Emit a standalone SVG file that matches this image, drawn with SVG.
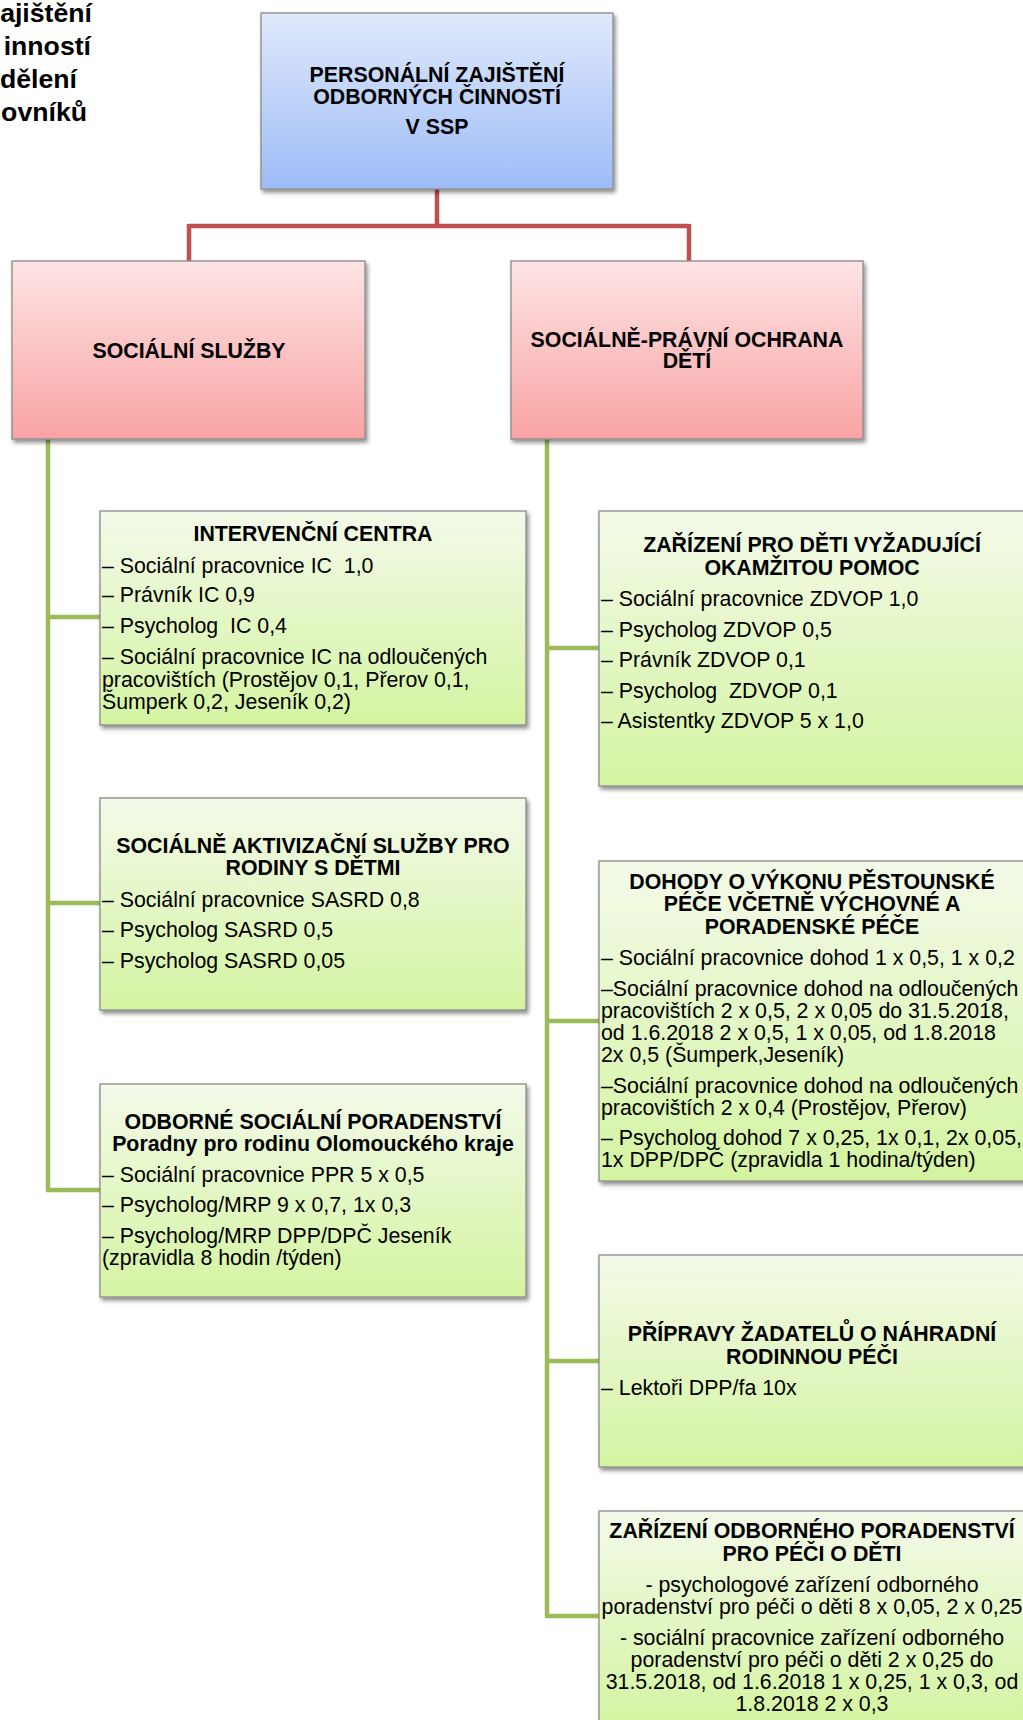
<svg xmlns="http://www.w3.org/2000/svg" width="1023" height="1720" viewBox="0 0 1023 1720">
<defs>
<linearGradient id="gBlue" x1="0" y1="0" x2="0" y2="1"><stop offset="0" stop-color="#e0e9fb"/><stop offset="1" stop-color="#9dbcf7"/></linearGradient>
<linearGradient id="gRed" x1="0" y1="0" x2="0" y2="1"><stop offset="0" stop-color="#fde4e4"/><stop offset="1" stop-color="#f9a3a3"/></linearGradient>
<linearGradient id="gGreen" x1="0" y1="0" x2="0" y2="1"><stop offset="0" stop-color="#f3fae9"/><stop offset="1" stop-color="#d4f4a1"/></linearGradient>
<filter id="sh" x="-5%" y="-5%" width="115%" height="120%"><feDropShadow dx="2" dy="3" stdDeviation="2" flood-color="#000" flood-opacity="0.45"/></filter>
</defs>
<style>
text{font-family:"Liberation Sans",Arial,sans-serif;font-size:21.33px;fill:#000;white-space:pre}
.b{font-weight:bold}
.c{text-anchor:middle}
.box{stroke:#8a8a8a;stroke-width:1.3;filter:url(#sh)}
.red{fill:none;stroke:#c0504d;stroke-width:4.5}
.grn{fill:none;stroke:#9bbb59;stroke-width:4.5}
.big{font-size:26.67px;font-weight:bold;text-anchor:end}
</style>
<rect width="1023" height="1720" fill="#fff"/>
<g id="title-fragment">
<text class="big" x="92" y="22">ajištění</text>
<text class="big" x="91" y="55">inností</text>
<text class="big" x="77" y="88">dělení</text>
<text class="big" x="87" y="121">ovníků</text>
</g>
<g id="connectors">
<path class="red" d="M437 189V226M189 226H689M189 224V261M689 224V261"/>
<path class="grn" d="M48 439V1190M46 617H100M46 903H100M46 1190H100"/>
<path class="grn" d="M547 439V1616M545 648H599M545 1021H599M545 1361H599M545 1616H599"/>
</g>
<g id="root">
<rect class="box" x="261" y="13" width="352" height="176" fill="url(#gBlue)"/>
<text class="b c" x="437" y="82">PERSONÁLNÍ ZAJIŠTĚNÍ</text>
<text class="b c" x="437" y="104">ODBORNÝCH ČINNOSTÍ</text>
<text class="b c" x="437" y="134">V SSP</text>
</g>
<g id="socialni-sluzby">
<rect class="box" x="12" y="261" width="353" height="178" fill="url(#gRed)"/>
<text class="b c" x="189" y="358">SOCIÁLNÍ SLUŽBY</text>
</g>
<g id="spod">
<rect class="box" x="511" y="261" width="352" height="178" fill="url(#gRed)"/>
<text class="b c" x="687" y="347">SOCIÁLNĚ-PRÁVNÍ OCHRANA</text>
<text class="b c" x="687" y="368">DĚTÍ</text>
</g>
<g id="intervencni-centra">
<rect class="box" x="100" y="511" width="426" height="214" fill="url(#gGreen)"/>
<text class="b c" x="313" y="541">INTERVENČNÍ CENTRA</text>
<text x="102" y="573">– Sociální pracovnice IC  1,0</text>
<text x="102" y="602">– Právník IC 0,9</text>
<text x="102" y="633">– Psycholog  IC 0,4</text>
<text x="102" y="664">– Sociální pracovnice IC na odloučených</text>
<text x="102" y="687">pracovištích (Prostějov 0,1, Přerov 0,1,</text>
<text x="102" y="709">Šumperk 0,2, Jeseník 0,2)</text>
</g>
<g id="sasrd">
<rect class="box" x="100" y="798" width="426" height="212" fill="url(#gGreen)"/>
<text class="b c" x="313" y="853">SOCIÁLNĚ AKTIVIZAČNÍ SLUŽBY PRO</text>
<text class="b c" x="313" y="875">RODINY S DĚTMI</text>
<text x="102" y="907">– Sociální pracovnice SASRD 0,8</text>
<text x="102" y="937">– Psycholog SASRD 0,5</text>
<text x="102" y="968">– Psycholog SASRD 0,05</text>
</g>
<g id="poradenstvi">
<rect class="box" x="100" y="1084" width="426" height="213" fill="url(#gGreen)"/>
<text class="b c" x="313" y="1129">ODBORNÉ SOCIÁLNÍ PORADENSTVÍ</text>
<text class="b c" x="313" y="1151">Poradny pro rodinu Olomouckého kraje</text>
<text x="102" y="1182">– Sociální pracovnice PPR 5 x 0,5</text>
<text x="102" y="1212">– Psycholog/MRP 9 x 0,7, 1x 0,3</text>
<text x="102" y="1243">– Psycholog/MRP DPP/DPČ Jeseník</text>
<text x="102" y="1265">(zpravidla 8 hodin /týden)</text>
</g>
<g id="zdvop">
<rect class="box" x="599" y="511" width="426" height="275" fill="url(#gGreen)"/>
<text class="b c" x="812" y="552">ZAŘÍZENÍ PRO DĚTI VYŽADUJÍCÍ</text>
<text class="b c" x="812" y="575">OKAMŽITOU POMOC</text>
<text x="601" y="606">– Sociální pracovnice ZDVOP 1,0</text>
<text x="601" y="637">– Psycholog ZDVOP 0,5</text>
<text x="601" y="667">– Právník ZDVOP 0,1</text>
<text x="601" y="698">– Psycholog  ZDVOP 0,1</text>
<text x="601" y="728">– Asistentky ZDVOP 5 x 1,0</text>
</g>
<g id="dohody">
<rect class="box" x="599" y="861" width="426" height="320" fill="url(#gGreen)"/>
<text class="b c" x="812" y="889">DOHODY O VÝKONU PĚSTOUNSKÉ</text>
<text class="b c" x="812" y="911">PÉČE VČETNĚ VÝCHOVNÉ A</text>
<text class="b c" x="812" y="934">PORADENSKÉ PÉČE</text>
<text x="601" y="965">– Sociální pracovnice dohod 1 x 0,5, 1 x 0,2</text>
<text x="601" y="996">–Sociální pracovnice dohod na odloučených</text>
<text x="601" y="1018">pracovištích 2 x 0,5, 2 x 0,05 do 31.5.2018,</text>
<text x="601" y="1040">od 1.6.2018 2 x 0,5, 1 x 0,05, od 1.8.2018</text>
<text x="601" y="1062">2x 0,5 (Šumperk,Jeseník)</text>
<text x="601" y="1093">–Sociální pracovnice dohod na odloučených</text>
<text x="601" y="1115">pracovištích 2 x 0,4 (Prostějov, Přerov)</text>
<text x="601" y="1145">– Psycholog dohod 7 x 0,25, 1x 0,1, 2x 0,05,</text>
<text x="601" y="1167">1x DPP/DPČ (zpravidla 1 hodina/týden)</text>
</g>
<g id="pripravy">
<rect class="box" x="599" y="1255" width="426" height="212" fill="url(#gGreen)"/>
<text class="b c" x="812" y="1341">PŘÍPRAVY ŽADATELŮ O NÁHRADNÍ</text>
<text class="b c" x="812" y="1364">RODINNOU PÉČI</text>
<text x="601" y="1395">– Lektoři DPP/fa 10x</text>
</g>
<g id="zop">
<rect class="box" x="599" y="1511" width="426" height="212" fill="url(#gGreen)"/>
<text class="b c" x="812" y="1538">ZAŘÍZENÍ ODBORNÉHO PORADENSTVÍ</text>
<text class="b c" x="812" y="1561">PRO PÉČI O DĚTI</text>
<text class="c" x="812" y="1592">- psychologové zařízení odborného</text>
<text class="c" x="812" y="1614">poradenství pro péči o děti 8 x 0,05, 2 x 0,25</text>
<text class="c" x="812" y="1645">- sociální pracovnice zařízení odborného</text>
<text class="c" x="812" y="1667">poradenství pro péči o děti 2 x 0,25 do</text>
<text class="c" x="812" y="1689">31.5.2018, od 1.6.2018 1 x 0,25, 1 x 0,3, od</text>
<text class="c" x="812" y="1711">1.8.2018 2 x 0,3</text>
</g>
</svg>
